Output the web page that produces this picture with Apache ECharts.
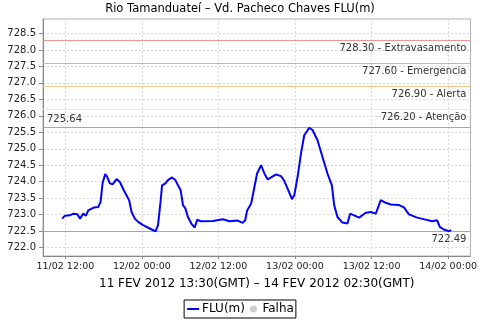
<!DOCTYPE html>
<html><head><meta charset="utf-8">
<script src="https://cdn.jsdelivr.net/npm/echarts@6/dist/echarts.min.js"></script>
<style>html,body{margin:0;padding:0;background:#fff}#c{width:480px;height:320px}</style>
</head><body><div id="c"></div>
<script>
// hours since 11/02/2012 00:00 (local time, as shown on the axis)
const hours = [11.50,11.95,12.73,13.25,13.88,14.30,14.81,15.23,15.59,16.53,17.16,17.53,17.84,18.25,18.56,18.98,19.41,20.03,20.55,21.17,22.00,22.38,22.89,23.41,24.19,25.23,26.13,26.53,26.95,27.16,27.69,28.09,28.72,29.25,29.66,30.08,30.44,30.81,31.22,31.75,32.27,32.53,32.69,33.20,35.13,36.69,37.73,39.03,39.81,40.19,40.50,41.13,41.64,42.06,42.69,43.20,43.72,44.25,45.03,45.81,46.33,46.84,47.53,47.89,48.41,48.94,49.45,50.23,50.75,51.53,52.31,53.09,53.78,54.14,54.66,55.44,56.22,56.64,57.27,58.05,59.09,59.88,60.67,61.44,62.22,63.00,64.30,65.08,65.86,67.16,68.47,69.50,70.28,70.70,71.33,72.11,72.50];
const levels = [722.88,722.97,722.98,723.03,723.01,722.88,723.03,722.97,723.13,723.22,723.23,723.39,723.96,724.23,724.15,723.95,723.92,724.08,723.99,723.74,723.44,723.08,722.88,722.78,722.68,722.58,722.49,722.68,723.44,723.89,723.95,724.05,724.13,724.05,723.89,723.74,723.29,723.19,722.93,722.73,722.61,722.63,722.85,722.80,722.81,722.86,722.80,722.82,722.75,722.83,723.13,723.34,723.84,724.25,724.50,724.25,724.07,724.13,724.22,724.17,724.02,723.79,723.47,723.59,724.15,724.86,725.41,725.64,725.57,725.26,724.75,724.25,723.89,723.29,722.93,722.76,722.73,723.03,722.98,722.91,723.06,723.08,723.03,723.44,723.36,723.31,723.29,723.22,723.01,722.91,722.85,722.80,722.83,722.63,722.55,722.50,722.53];
const xTicks = [12,24,36,48,60,72];
const xTickLabels = ['11/02 12:00','12/02 00:00','12/02 12:00','13/02 00:00','13/02 12:00','14/02 00:00'];
const yTicks = [722.0,722.5,723.0,723.5,724.0,724.5,725.0,725.5,726.0,726.5,727.0,727.5,728.0,728.5];
const thresholdValues = [728.30,727.60,726.90,726.20];
const thresholdNames = ['Extravasamento','Emergencia','Alerta','Atenção'];
const thresholdColors = ['#f09595','#ff88ff','#f8c48c','#f8eea0'];
const maxValue = 725.64;
const minValue = 722.49;

const FONT = 'DejaVu Sans';
const chart = echarts.init(document.getElementById('c'), null, {renderer:'canvas'});
const markData = thresholdValues.map((v,i)=>({
  yAxis: v,
  lineStyle:{color:thresholdColors[i], width:1, type:'solid', opacity:1},
  label:{formatter: v.toFixed(2)+' - '+thresholdNames[i], position:'insideEndBottom'}
}));
markData.push({yAxis:maxValue, lineStyle:{color:'#a8a8a8',width:1,type:'solid',opacity:1},
  label:{formatter:maxValue.toFixed(2), position:'insideStartTop'}});
markData.push({yAxis:minValue, lineStyle:{color:'#a8a8a8',width:1,type:'solid',opacity:1},
  label:{formatter:minValue.toFixed(2), position:'insideEndBottom'}});

chart.setOption({
  animation:false,
  backgroundColor:'#fff',
  textStyle:{fontFamily:FONT},
  title:{text:'Rio Tamanduateí – Vd. Pacheco Chaves FLU(m)', left:'center', top:-2,
    textStyle:{fontFamily:FONT, fontSize:11.5, fontWeight:'normal', color:'#000'}},
  grid:{left:43, right:8, top:19, bottom:64, show:true, borderColor:'#b0b0b0', borderWidth:1, containLabel:false},
  legend:{bottom:2, left:'center',
    data:[{name:'FLU(m)', itemStyle:{color:'rgba(0,0,0,0)', borderWidth:0, opacity:0}},{name:'Falha', icon:'circle'}],
    borderColor:'#000', borderWidth:1, padding:[3,2,3,2], itemGap:5, itemWidth:12, itemHeight:7,
    textStyle:{fontFamily:FONT, fontSize:12, color:'#000', padding:[0,0,0,-2]}},
  xAxis:{type:'value', min:8.5, max:75.5,
    name:'11 FEV 2012 13:30(GMT) – 14 FEV 2012 02:30(GMT)', nameLocation:'middle', nameGap:22,
    nameTextStyle:{fontFamily:FONT, fontSize:12, color:'#000'},
    axisLine:{lineStyle:{color:'#888'}},
    axisTick:{show:true, length:3, customValues:xTicks, lineStyle:{color:'#888'}},
    axisLabel:{customValues:xTicks, margin:6, fontFamily:FONT, fontSize:9.5, color:'#222',
      formatter:(v)=>{const i=xTicks.indexOf(v); return i>=0?xTickLabels[i]:'';}},
    splitLine:{show:true, lineStyle:{color:'#d8d8d8', type:[2,2], width:1}}},
  yAxis:{type:'value', min:721.745, max:728.94,
    axisLine:{show:true, lineStyle:{color:'#888'}},
    axisTick:{show:true, length:4, customValues:yTicks, lineStyle:{color:'#888'}},
    axisLabel:{customValues:yTicks, margin:7, fontFamily:FONT, fontSize:10, color:'#222',
      formatter:(v)=>v.toFixed(1)},
    splitLine:{show:true, lineStyle:{color:'#d8d8d8', type:[2,2], width:1}}},
  series:[
    {name:'FLU(m)', type:'line', symbol:'none', data:hours.map((h,i)=>[h,levels[i]]),
      lineStyle:{color:'#0000ff', width:2}, itemStyle:{color:'#0000ff'}, z:5,
      markLine:{silent:true, symbol:'none', animation:false,
        label:{fontFamily:FONT, fontSize:10, color:'#333', distance:[4,3]},
        data:markData}},
    {name:'Falha', type:'scatter', data:[], itemStyle:{color:'#c0c0c0'}}
  ]
});
</script></body></html>
